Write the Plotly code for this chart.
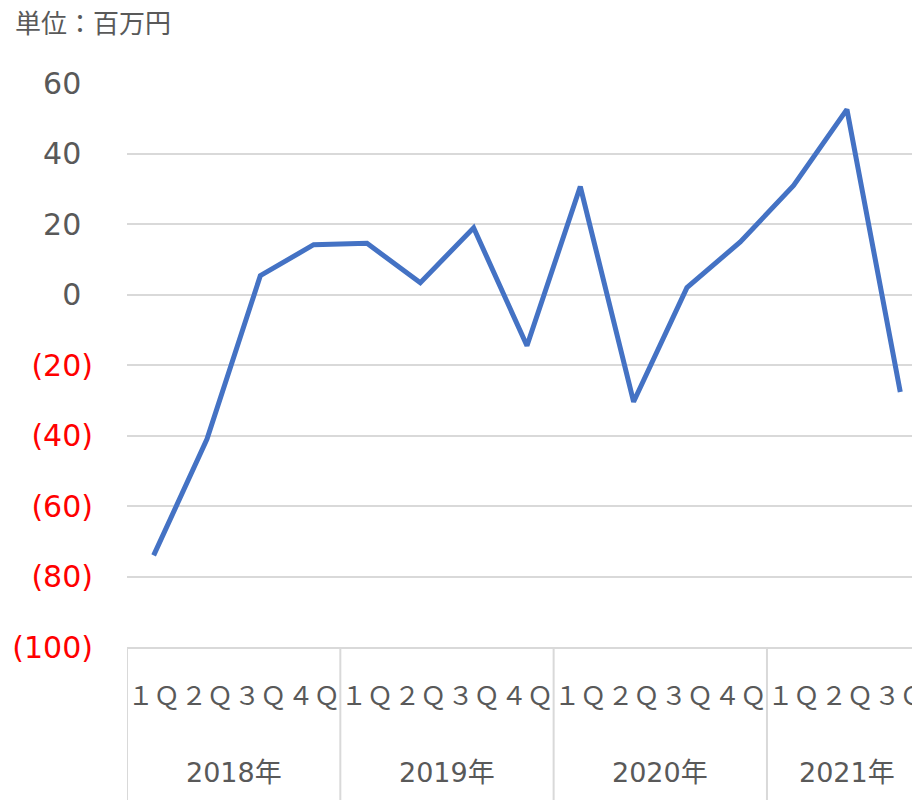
import plotly.graph_objects as go

years = ["2018年", "2019年", "2020年", "2021年"]
quarters = ["１Ｑ", "２Ｑ", "３Ｑ", "４Ｑ", "１Ｑ", "２Ｑ", "３Ｑ", "４Ｑ",
            "１Ｑ", "２Ｑ", "３Ｑ", "４Ｑ", "１Ｑ", "２Ｑ", "３Ｑ"]
values = [-74, -41, 5.4, 14.2, 14.6, 3.4, 19, -14.5, 30.7, -30.4, 2, 15, 31, 52.6, -27.6]
year_counts = [4, 4, 4, 3]
ytick_vals = [60, 40, 20, 0, -20, -40, -60, -80, -100]

FONT = "DejaVu Sans, Noto Sans CJK JP, sans-serif"
GRAY = "#595959"
GRID = "#d9d9d9"

x = list(range(len(values)))

def fmt(v):
    if v < 0:
        return f'<span style="color:#ff0000">({abs(v)})</span>'
    return f'{v}<span style="color:rgba(0,0,0,0)">)</span>'

fig = go.Figure()
fig.add_trace(go.Scatter(x=x, y=values, mode="lines",
                         line=dict(color="#4472C4", width=5), hoverinfo="skip"))

start = 0
shapes = []
annotations = []
for yr, n in zip(years, year_counts):
    shapes.append(dict(type="line", xref="x", yref="paper", x0=start - 0.5, x1=start - 0.5,
                       y0=0, y1=-0.35, line=dict(color=GRID, width=2)))
    annotations.append(dict(xref="x", yref="paper", x=start + (n - 1) / 2, y=0,
                            yanchor="middle", yshift=-125, text=yr, showarrow=False,
                            font=dict(family=FONT, size=27, color=GRAY)))
    start += n

annotations.append(dict(xref="paper", yref="paper", x=0, y=1, xanchor="left", yanchor="middle",
                        xshift=-114, yshift=62, text="単位：百万円", showarrow=False,
                        font=dict(family="Noto Sans CJK JP", size=26, color=GRAY)))

fig.update_layout(
    width=912, height=792,
    margin=dict(l=119, r=0, t=75, b=153),
    paper_bgcolor="white", plot_bgcolor="white",
    showlegend=False,
    shapes=shapes, annotations=annotations,
    xaxis=dict(range=[-0.5, 14.37], tickvals=x, ticktext=quarters, showgrid=False,
               zeroline=False, showline=True, linecolor=GRID, linewidth=2,
               ticks="", ticklabelstandoff=25, tickangle=0, automargin=False,
               ticklabeloverflow="allow",
               tickfont=dict(family="Noto Sans CJK JP", size=26, color=GRAY)),
    yaxis=dict(range=[-100, 60.1], tickvals=ytick_vals, ticktext=[fmt(v) for v in ytick_vals],
               showgrid=True, gridcolor=GRID, gridwidth=2, zeroline=False, showline=False,
               ticks="", ticklabelstandoff=33, automargin=False,
               tickfont=dict(family=FONT, size=30, color=GRAY)),
)

fig.write_html("out.html")
